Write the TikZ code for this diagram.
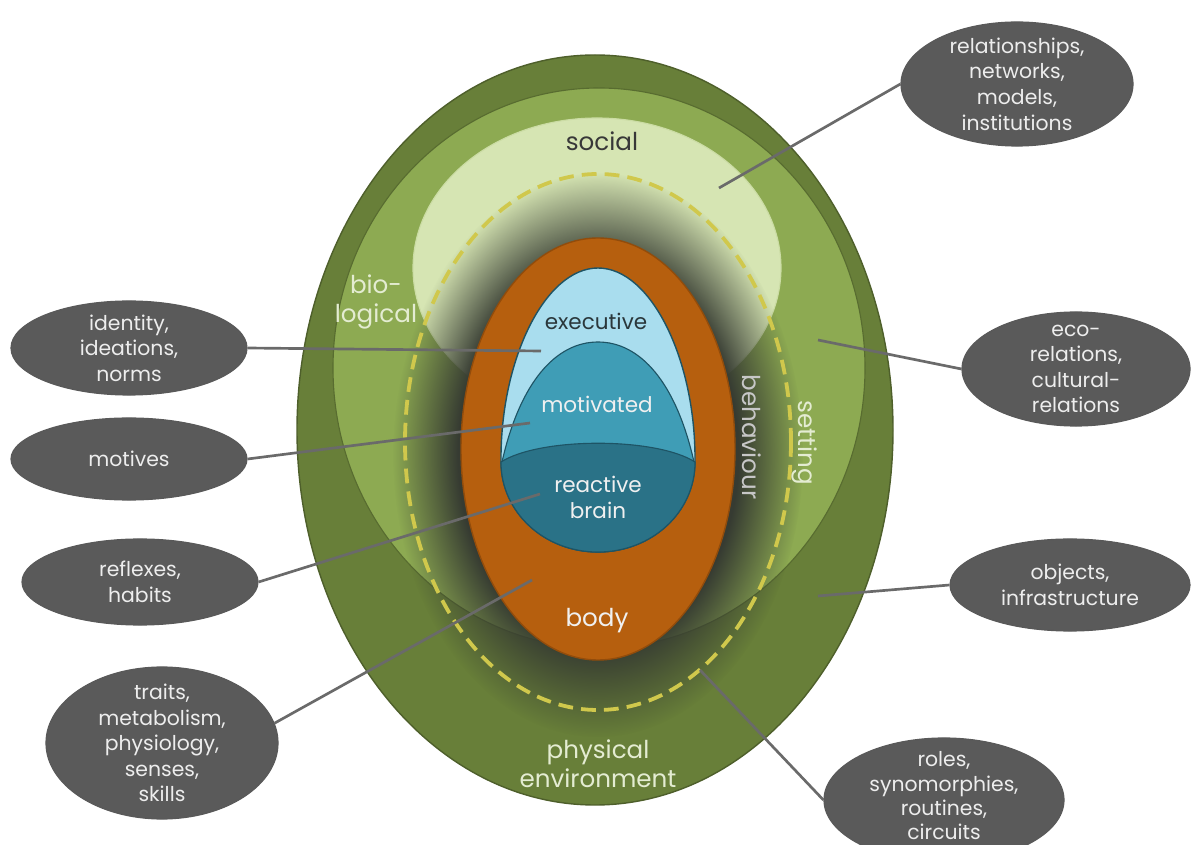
\documentclass[tikz,border=0pt]{standalone}
\usepackage{fontspec}
\setmainfont{Poppins}
\usetikzlibrary{shapes.geometric,fadings}
\definecolor{outergreen}{HTML}{687F39}
\definecolor{midgreen}{HTML}{8DAA52}
\definecolor{socialgreen}{HTML}{D6E5B3}
\definecolor{glowgrey}{HTML}{363B32}
\definecolor{dashyellow}{HTML}{D0C84C}
\definecolor{bodyorange}{HTML}{B65F0E}
\definecolor{execblue}{HTML}{A9DDEE}
\definecolor{motblue}{HTML}{3F9DB6}
\definecolor{reactblue}{HTML}{2A7287}
\definecolor{eggedge}{HTML}{1E5465}
\definecolor{bubblegrey}{HTML}{5A5A5A}
\definecolor{linegrey}{HTML}{6A6A6A}
\definecolor{paletext}{HTML}{E4ECD2}
\newcommand{\bigfont}{\fontsize{17.5}{20.5}\selectfont}
\newcommand{\brainfont}{\fontsize{15.3}{18.5}\selectfont}
\pgfdeclareradialshading{glowshade}{\pgfpointorigin}{color(0bp)=(white); color(17bp)=(white); color(25bp)=(black); color(50bp)=(black)}
\pgfdeclarefading{glowfade}{\pgfuseshading{glowshade}}
\begin{document}
\begin{tikzpicture}[x=0.025cm,y=-0.025cm,
    every node/.style={inner sep=0pt},
    bubble/.style={ellipse,fill=bubblegrey,draw=black!65,line width=0.8pt},
    btext/.style={text=white!93!black,align=center,font=\fontsize{14.5}{18.2}\selectfont},
    conn/.style={draw=linegrey,line width=1.9pt},
    lbl/.style={font=\bigfont,align=center,text=paletext},
    brain/.style={font=\brainfont,align=center,text=white!94!black}
  ]
  \useasboundingbox (0,0) rectangle (1192,845);
  \fill[outergreen,draw=outergreen!75!black,line width=1pt] (595,430) ellipse (298 and 375);
  \fill[midgreen,draw=outergreen!85!black,line width=0.8pt] (599,368) ellipse (266 and 280);
  \fill[socialgreen,draw=socialgreen!85!midgreen,line width=0.8pt] (597,268) ellipse (184 and 150);
  \fill[glowgrey,path fading=glowfade] (598,455) ellipse (205 and 282);
  \draw[dashyellow,line width=2.7pt,dash pattern=on 10.5pt off 5.8pt] (598,442) ellipse (193 and 268);
  \fill[bodyorange,draw=bodyorange!80!black,line width=1pt] (598,449) ellipse (137 and 211);
  \fill[execblue,draw=eggedge,line width=1pt] (501,462) .. controls (500,360) and (545,268) .. (598,268)
    .. controls (651,268) and (696,360) .. (695,462) .. controls (695,512) and (652,552) .. (598,552)
    .. controls (544,552) and (501,512) .. (501,462) -- cycle;
  \fill[motblue,draw=eggedge,line width=0.8pt] (502,462) .. controls (520,382) and (556,342) .. (598,342)
    .. controls (640,342) and (676,382) .. (694,462) .. controls (694,512) and (652,552) .. (598,552)
    .. controls (544,552) and (502,512) .. (502,462) -- cycle;
  \fill[reactblue,draw=eggedge,line width=0.8pt] (501,462) .. controls (540,437) and (656,437) .. (695,462)
    .. controls (695,512) and (652,552) .. (598,552) .. controls (544,552) and (501,512) .. (501,462) -- cycle;

  \node[lbl,text=black!78] (social) at (602,141) {social};
  \node[lbl,font=\fontsize{17.5}{21}\selectfont] (bio) at (376,302) {bio-\\logical};
  \node[brain,text=black!75!execblue] (exec) at (596,321) {executive};
  \node[brain] (mot) at (597,404) {motivated};
  \node[brain] (react) at (598,497) {reactive\\brain};
  \node[lbl,text=white!94!black] (body) at (597,621) {body};
  \node[lbl,text=black!22,rotate=-90] (behav) at (752,437) {behaviour};
  \node[lbl,rotate=-90] (setting) at (805,443) {setting};
  \node[lbl] (phys) at (598,764) {physical\\environment};

  \node[bubble,minimum width=5.8cm,minimum height=3.1cm,label={[btext]center:{relationships,\\networks,\\models,\\institutions}}] (rel) at (1017,84) {};
  \node[bubble,minimum width=5.9cm,minimum height=2.35cm,label={[btext]center:{identity,\\ideations,\\norms}}] (ident) at (129,348) {};
  \node[bubble,minimum width=5.9cm,minimum height=2.05cm,label={[btext]center:{motives}}] (motives) at (129,459) {};
  \node[bubble,minimum width=5.9cm,minimum height=2.15cm,label={[btext]center:{reflexes,\\habits}}] (reflex) at (140,582) {};
  \node[bubble,minimum width=5.8cm,minimum height=3.8cm,label={[btext]center:{traits,\\metabolism,\\physiology,\\senses,\\skills}}] (traits) at (162,743) {};
  \node[bubble,minimum width=5.7cm,minimum height=2.85cm,label={[btext]center:{eco-\\relations,\\cultural-\\relations}}] (eco) at (1076,369) {};
  \node[bubble,minimum width=6cm,minimum height=2.3cm,label={[btext]center:{objects,\\infrastructure}}] (objects) at (1070,585) {};
  \node[bubble,minimum width=6cm,minimum height=3.1cm,label={[btext,yshift=3pt,font=\fontsize{14.5}{17.4}\selectfont]center:{roles,\\synomorphies,\\routines,\\circuits}}] (roles) at (944,800) {};

  \coordinate (socialend) at (719,188);
  \coordinate (execend) at (541,351);
  \coordinate (motend) at (530,423);
  \coordinate (reactend) at (540,494);
  \coordinate (bodyend) at (532,580);
  \coordinate (ecoend) at (818,340);
  \coordinate (objend) at (818,596);
  \coordinate (rolesend) at (700,670);
  \draw[conn] (socialend) -- (rel.west);
  \draw[conn] (execend) -- (ident.east);
  \draw[conn] (motend) -- (motives.east);
  \draw[conn] (reactend) -- (reflex.east);
  \draw[conn] (bodyend) -- (traits.10);
  \draw[conn] (ecoend) -- (eco.west);
  \draw[conn] (objend) -- (objects.west);
  \draw[conn] (rolesend) -- (roles.west);
\end{tikzpicture}
\end{document}
